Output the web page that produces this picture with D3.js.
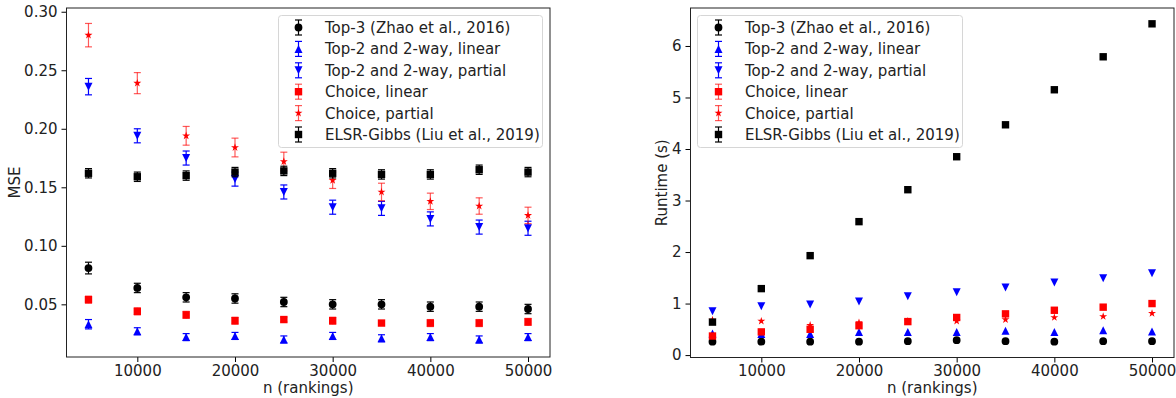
<!DOCTYPE html>
<html>
<head>
<meta charset="utf-8">
<script src="https://cdn.jsdelivr.net/npm/d3@7/dist/d3.min.js"></script>
<style>
  html, body { margin: 0; padding: 0; background: #fff; }
  svg { display: block; font-family: "DejaVu Sans", sans-serif; }
</style>
</head>
<body>
<svg id="chart" width="1176" height="398"></svg>
<script>
// ---------------- data ----------------
const ns = [5000, 10000, 15000, 20000, 25000, 30000, 35000, 40000, 45000, 50000];

const seriesNames = [
  "Top-3 (Zhao et al., 2016)",
  "Top-2 and 2-way, linear",
  "Top-2 and 2-way, partial",
  "Choice, linear",
  "Choice, partial",
  "ELSR-Gibbs (Liu et al., 2019)"
];

// MSE (left panel) values and error half-widths
const mseTop3        = [0.081, 0.064, 0.056, 0.055, 0.052, 0.050, 0.050, 0.048, 0.048, 0.046];
const mseTop3Err     = [0.005, 0.004, 0.004, 0.004, 0.004, 0.004, 0.004, 0.004, 0.004, 0.004];
const mseTop2Lin     = [0.033, 0.027, 0.022, 0.023, 0.020, 0.023, 0.021, 0.022, 0.020, 0.022];
const mseTop2LinErr  = [0.004, 0.003, 0.003, 0.003, 0.003, 0.003, 0.003, 0.003, 0.003, 0.003];
const mseTop2Par     = [0.236, 0.194, 0.175, 0.157, 0.146, 0.133, 0.132, 0.123, 0.116, 0.115];
const mseTop2ParErr  = [0.007, 0.006, 0.006, 0.006, 0.006, 0.006, 0.006, 0.006, 0.006, 0.006];
const mseChoiceLin   = [0.054, 0.044, 0.041, 0.036, 0.037, 0.036, 0.034, 0.034, 0.034, 0.035];
const mseChoiceLinErr= [0.003, 0.003, 0.003, 0.003, 0.002, 0.003, 0.002, 0.003, 0.003, 0.003];
const mseChoicePar   = [0.280, 0.239, 0.194, 0.184, 0.172, 0.156, 0.146, 0.138, 0.134, 0.126];
const mseChoiceParErr= [0.010, 0.009, 0.008, 0.008, 0.008, 0.007, 0.0075, 0.007, 0.007, 0.007];
const mseElsr        = [0.162, 0.159, 0.160, 0.163, 0.164, 0.162, 0.161, 0.161, 0.165, 0.163];
const mseElsrErr     = [0.004, 0.004, 0.004, 0.004, 0.004, 0.004, 0.004, 0.004, 0.004, 0.004];

// Runtime (right panel), seconds
const rtTop3      = [0.26, 0.26, 0.26, 0.26, 0.27, 0.29, 0.27, 0.26, 0.27, 0.27];
const rtTop2Lin   = [0.42, 0.41, 0.41, 0.45, 0.45, 0.45, 0.47, 0.45, 0.48, 0.46];
const rtTop2Par   = [0.85, 0.95, 0.98, 1.04, 1.14, 1.22, 1.31, 1.41, 1.49, 1.59];
const rtChoiceLin = [0.37, 0.45, 0.50, 0.57, 0.65, 0.73, 0.80, 0.87, 0.93, 1.00];
const rtChoicePar = [0.68, 0.66, 0.58, 0.63, 0.66, 0.66, 0.69, 0.73, 0.75, 0.81];
const rtElsr      = [0.64, 1.29, 1.93, 2.59, 3.21, 3.85, 4.47, 5.15, 5.79, 6.43];

const xTicks = [10000, 20000, 30000, 40000, 50000];
const mseTicks = [0.05, 0.10, 0.15, 0.20, 0.25, 0.30];
const rtTicks = [0, 1, 2, 3, 4, 5, 6];

// ---------------- styles ----------------
const FS = 15;
const colors  = ["#000000", "#0000ff", "#0000ff", "#ff0000", "#ff0000", "#000000"];
const shapes  = ["circle", "triUp", "triDown", "square", "star", "square"];
const errAlpha = [1, 1, 1, 0.65, 0.65, 1];

function markerPath(shape) {
  const s = 8; // marker size px
  const h = s / 2;
  if (shape === "circle") {
    const r = 3.9;
    return `M${r},0A${r},${r} 0 1,1 ${-r},0A${r},${r} 0 1,1 ${r},0Z`;
  }
  if (shape === "square") { const q = 3.7; return `M${-q},${-q}H${q}V${q}H${-q}Z`; }
  if (shape === "triUp") return `M0,${-h}L${h},${h}L${-h},${h}Z`;
  if (shape === "triDown") return `M0,${h}L${h},${-h}L${-h},${-h}Z`;
  if (shape === "star") {
    const ro = 4.2, ri = ro * 0.382;
    let p = "";
    for (let i = 0; i < 10; i++) {
      const r = i % 2 === 0 ? ro : ri;
      const a = -Math.PI / 2 + i * Math.PI / 5;
      p += (i === 0 ? "M" : "L") + (r * Math.cos(a)).toFixed(2) + "," + (r * Math.sin(a)).toFixed(2);
    }
    return p + "Z";
  }
}

const svg = d3.select("#chart");

function panel(opts) {
  const { x0, x1, y0, y1, yDomain, yTicks, yFmt, values, errors, ylabel, ylabelX, legend } = opts;
  const x = d3.scaleLinear().domain([2750, 52250]).range([x0, x1]);
  const y = d3.scaleLinear().domain(yDomain).range([y1, y0]);
  const g = svg.append("g");

  // axes
  const xAxis = d3.axisBottom(x).tickValues(xTicks).tickFormat(d3.format("d")).tickSize(5).tickPadding(3);
  const yAxis = d3.axisLeft(y).tickValues(yTicks).tickFormat(yFmt).tickSize(5).tickPadding(4);
  const gx = g.append("g").attr("transform", `translate(0,${y1})`).call(xAxis);
  const gy = g.append("g").attr("transform", `translate(${x0},0)`).call(yAxis);
  [gx, gy].forEach(a => {
    a.attr("font-family", "DejaVu Sans, sans-serif").attr("font-size", FS);
    a.select(".domain").remove();
    a.selectAll("line").attr("stroke", "#000").attr("stroke-width", 1);
    a.selectAll("text").attr("font-size", FS).attr("fill", "#222");
  });

  // frame
  g.append("rect").attr("x", x0).attr("y", y0).attr("width", x1 - x0).attr("height", y1 - y0)
    .attr("fill", "none").attr("stroke", "#222").attr("stroke-width", 1);

  // series
  values.forEach((vals, si) => {
    const sg = g.append("g");
    const errs = errors ? errors[si] : null;
    if (errs) {
      const eg = sg.append("g").attr("stroke", colors[si]).attr("stroke-opacity", errAlpha[si]).attr("stroke-width", 1.2);
      ns.forEach((n, i) => {
        const cx = x(n), ya = y(vals[i] + errs[i]), yb = y(vals[i] - errs[i]);
        eg.append("line").attr("x1", cx).attr("x2", cx).attr("y1", ya).attr("y2", yb);
        eg.append("line").attr("x1", cx - 3.5).attr("x2", cx + 3.5).attr("y1", ya).attr("y2", ya);
        eg.append("line").attr("x1", cx - 3.5).attr("x2", cx + 3.5).attr("y1", yb).attr("y2", yb);
      });
    }
    sg.selectAll("path.m").data(vals).enter().append("path").attr("class", "m")
      .attr("d", markerPath(shapes[si]))
      .attr("transform", (d, i) => `translate(${x(ns[i])},${y(d)})`)
      .attr("fill", colors[si]);
  });

  // labels
  g.append("text").attr("x", (x0 + x1) / 2).attr("y", 393).attr("text-anchor", "middle")
    .attr("font-size", FS).attr("fill", "#222").text("n (rankings)");
  g.append("text").attr("transform", `translate(${ylabelX},${(y0 + y1) / 2}) rotate(-90)`)
    .attr("text-anchor", "middle").attr("font-size", FS).attr("fill", "#222").text(ylabel);

  // legend
  const lg = g.append("g");
  lg.append("rect").attr("x", legend.x0).attr("y", 15.5).attr("width", legend.w).attr("height", 132)
    .attr("rx", 3).attr("fill", "#fff").attr("fill-opacity", 0.8).attr("stroke", "#d6d6d6").attr("stroke-width", 1);
  seriesNames.forEach((name, si) => {
    const cy = 27.5 + si * 21.4;
    const mx = legend.mx;
    const eg = lg.append("g").attr("stroke", colors[si]).attr("stroke-opacity", errAlpha[si]).attr("stroke-width", 1.2);
    eg.append("line").attr("x1", mx).attr("x2", mx).attr("y1", cy - 7.5).attr("y2", cy + 7.5);
    eg.append("line").attr("x1", mx - 3.5).attr("x2", mx + 3.5).attr("y1", cy - 7.5).attr("y2", cy - 7.5);
    eg.append("line").attr("x1", mx - 3.5).attr("x2", mx + 3.5).attr("y1", cy + 7.5).attr("y2", cy + 7.5);
    lg.append("path").attr("d", markerPath(shapes[si])).attr("transform", `translate(${mx},${cy})`).attr("fill", colors[si]);
    lg.append("text").attr("x", legend.tx).attr("y", cy).attr("dy", "0.36em")
      .attr("font-size", FS).attr("fill", "#222").text(name);
  });
}

panel({
  x0: 66.5, x1: 550, y0: 8, y1: 357,
  yDomain: [0.005, 0.3032], yTicks: mseTicks, yFmt: d3.format(".2f"),
  values: [mseTop3, mseTop2Lin, mseTop2Par, mseChoiceLin, mseChoicePar, mseElsr],
  errors: [mseTop3Err, mseTop2LinErr, mseTop2ParErr, mseChoiceLinErr, mseChoiceParErr, mseElsrErr],
  ylabel: "MSE", ylabelX: 20,
  legend: { x0: 278.5, w: 264, mx: 298.5, tx: 325 }
});

panel({
  x0: 690.5, x1: 1174, y0: 8, y1: 357.5,
  yDomain: [-0.047, 6.737], yTicks: rtTicks, yFmt: d3.format("d"),
  values: [rtTop3, rtTop2Lin, rtTop2Par, rtChoiceLin, rtChoicePar, rtElsr],
  errors: null,
  ylabel: "Runtime (s)", ylabelX: 667,
  legend: { x0: 697.5, w: 265, mx: 718.5, tx: 745 }
});
</script>
</body>
</html>
